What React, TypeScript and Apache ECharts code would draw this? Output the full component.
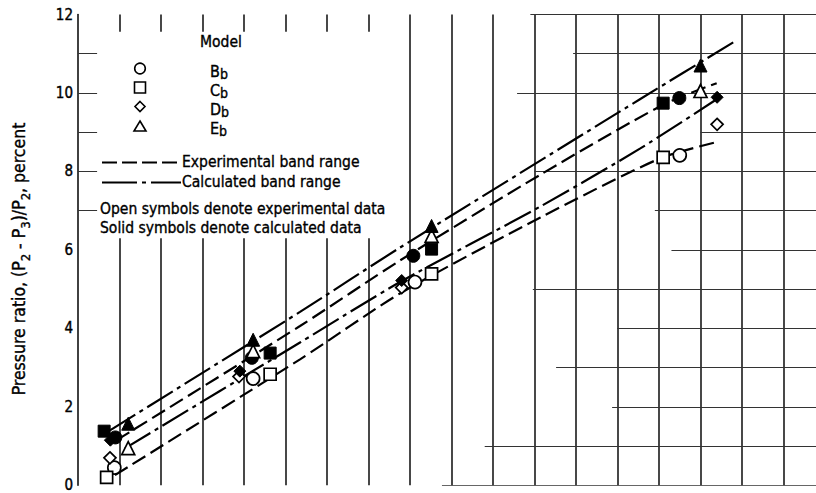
import React, { useEffect, useRef } from "react";
import * as echarts from "echarts";

const FONT = "'DejaVu Sans Condensed', 'Liberation Sans Narrow', sans-serif";
const X_MAX = 17.783;
const Y_TICKS_INTERVAL = 2;

// Model B (circle)
const bExperimental = [[0.875, 0.45], [4.22, 2.72], [8.12, 5.18], [14.5, 8.41]];
const bCalculated = [[0.9, 1.22], [4.19, 3.25], [8.08, 5.85], [14.49, 9.87]];
// Model C (square)
const cExperimental = [[0.69, 0.2], [4.63, 2.83], [8.52, 5.39], [14.1, 8.36]];
const cCalculated = [[0.63, 1.38], [4.63, 3.37], [8.52, 6.02], [14.1, 9.74]];
// Model D (diamond)
const dExperimental = [[0.77, 0.7], [3.88, 2.77], [7.8, 5.04], [15.4, 9.2]];
const dCalculated = [[0.78, 1.15], [3.9, 2.91], [7.8, 5.22], [15.4, 9.89]];
// Model E (triangle)
const eExperimental = [[1.21, 0.95], [4.22, 3.42], [8.52, 6.36], [15.0, 10.05]];
const eCalculated = [[1.21, 1.57], [4.22, 3.71], [8.52, 6.61], [15.0, 10.7]];

// Band ranges
const calcUpper = [[0.77, 1.4], [5.35, 4.42], [7.76, 6.06], [13.54, 9.84], [15.79, 11.29]];
const expUpper = [[0.93, 1.15], [5.35, 4.06], [7.76, 5.73], [11.13, 7.91], [14.1, 9.7], [15.39, 10.25]];
const calcLower = [[1.13, 0.94], [5.35, 3.64], [7.76, 5.18], [11.13, 7.1], [13.54, 8.58], [15.39, 9.84]];
const expLower = [[0.89, 0.26], [5.35, 3.21], [7.76, 4.89], [11.13, 6.82], [14.02, 8.33], [15.39, 8.75]];

// Graph-paper rulings (as printed / scanned)
const vLinesFull = [8, 9, 10, 11, 12, 13, 14, 15, 16, 17];
const vLinesBroken = [1, 2, 3, 4, 5, 6, 7];
const vBrokenSegments = [[0, 6.3], [11.56, 12]];
const hLineStarts = [
  [12, 10.9], [11, 11.93], [10, 10.58], [9, 15.0], [8, 11.0], [7, 13.9], [6, 14.3],
  [5, 10.96], [4, 12.99], [3, 11.52], [2, 12.87], [1, 9.8], [0, 8.77],
];
const leftTicks = [7, 8, 9, 10, 11];
const leftTickLength = 0.46;

export default function App() {
  const ref = useRef<HTMLDivElement>(null);
  useEffect(() => {
    if (!ref.current) return;
    const chart = echarts.init(ref.current, undefined, { renderer: "svg" });

    const vSegs: any[] = [];
    vLinesFull.forEach((x) => vSegs.push({ coords: [[x, 0], [x, 12]] }));
    vLinesBroken.forEach((x) =>
      vBrokenSegments.forEach(([a, b]) => vSegs.push({ coords: [[x, a], [x, b]] }))
    );
    const hSegs: any[] = [];
    hLineStarts.forEach(([y, x0]) => hSegs.push({ coords: [[x0, y], [X_MAX, y]] }));
    leftTicks.forEach((y) => hSegs.push({ coords: [[0, y], [leftTickLength, y]] }));

    const dashed = [15, 6];
    const dashDot = [30, 5, 4, 5];

    const bandLine = (name: string, data: number[][], type: number[]) => ({
      name,
      type: "line",
      data,
      showSymbol: false,
      smooth: 0.25,
      z: 3,
      lineStyle: { color: "#000", width: 2.2, type },
      silent: true,
    });

    const scatter = (name: string, data: number[][], symbol: string, size: number, open: boolean) => ({
      name,
      type: "scatter",
      data,
      symbol,
      symbolSize: size,
      z: 5,
      itemStyle: open
        ? { color: "#fff", borderColor: "#000", borderWidth: 1.7, opacity: 1 }
        : { color: "#000", borderColor: "#000", borderWidth: 1, opacity: 1 },
    });

    const ink = { fill: "#000", stroke: "#000", lineWidth: 0.35 };
    const textStyle = { fontFamily: FONT, fontSize: 15.5, ...ink };
    const modelRich = {
      m: { fontFamily: FONT, fontSize: 16, ...ink, lineHeight: 18, verticalAlign: "top" },
      s: { fontFamily: FONT, fontSize: 14, ...ink, lineHeight: 18, verticalAlign: "bottom", padding: [8, 0, 0, 0] },
    };

    const modelLabel = (letter: string, y: number) => ({
      type: "text",
      x: 210,
      y,
      style: { text: `{m|${letter}}{s|b}`, rich: modelRich, verticalAlign: "middle" },
    });

    chart.setOption({
      animation: false,
      grid: { left: 78, right: 0, top: 14.5, bottom: 2.5, containLabel: false },
      xAxis: {
        type: "value",
        min: 0,
        max: X_MAX,
        axisLine: { show: false },
        axisTick: { show: false },
        axisLabel: { show: false },
        splitLine: { show: false },
      },
      yAxis: {
        type: "value",
        min: 0,
        max: 12,
        interval: Y_TICKS_INTERVAL,
        axisLine: { show: true, lineStyle: { color: "#111", width: 1.6 } },
        axisTick: { show: false },
        splitLine: { show: false },
        axisLabel: {
          color: "#000", fontFamily: FONT, fontSize: 15, margin: 5,
          textBorderColor: "#000", textBorderWidth: 0.4,
        },
      },
      series: [
        { type: "lines", coordinateSystem: "cartesian2d", data: vSegs, silent: true, z: 1,
          lineStyle: { color: "#1a1a1a", width: 1.6, opacity: 1 } },
        { type: "lines", coordinateSystem: "cartesian2d", data: hSegs, silent: true, z: 1,
          lineStyle: { color: "#333", width: 1.1, opacity: 1 } },
        bandLine("Calculated upper", calcUpper, dashDot),
        bandLine("Experimental upper", expUpper, dashed),
        bandLine("Calculated lower", calcLower, dashDot),
        bandLine("Experimental lower", expLower, dashed),
        scatter("B experimental", bExperimental, "circle", 13, true),
        scatter("B calculated", bCalculated, "circle", 13, false),
        scatter("C experimental", cExperimental, "rect", 12, true),
        scatter("C calculated", cCalculated, "rect", 12, false),
        scatter("D experimental", dExperimental, "diamond", 12, true),
        scatter("D calculated", dCalculated, "diamond", 12, false),
        scatter("E experimental", eExperimental, "triangle", 13, true),
        scatter("E calculated", eCalculated, "triangle", 13, false),
      ],
      graphic: [
        {
          type: "text",
          x: 21,
          y: 259,
          rotation: Math.PI / 2,
          style: {
            text: "{n|Pressure ratio, (P}{s|2}{n| - P}{s|3}{n|)/P}{s|2}{n|, percent}",
            align: "center",
            verticalAlign: "middle",
            rich: {
              n: { fontFamily: FONT, fontSize: 17.5, ...ink, lineHeight: 22, verticalAlign: "top" },
              s: { fontFamily: FONT, fontSize: 13, ...ink, lineHeight: 22, verticalAlign: "bottom", padding: [9, 0, 0, 0] },
            },
          },
        },
        { type: "text", x: 200, y: 42, style: { ...textStyle, text: "Model", verticalAlign: "middle" } },
        { type: "circle", shape: { cx: 140, cy: 68.5, r: 5.3 }, style: { fill: "#fff", stroke: "#000", lineWidth: 1.6 } },
        { type: "rect", shape: { x: 134.5, y: 82, width: 11, height: 11 }, style: { fill: "#fff", stroke: "#000", lineWidth: 1.6 } },
        { type: "polygon", shape: { points: [[140, 101.5], [145, 106.5], [140, 111.5], [135, 106.5]] }, style: { fill: "#fff", stroke: "#000", lineWidth: 1.6 } },
        { type: "polygon", shape: { points: [[140, 121], [146, 131], [134, 131]] }, style: { fill: "#fff", stroke: "#000", lineWidth: 1.6 } },
        modelLabel("B", 72),
        modelLabel("C", 91),
        modelLabel("D", 110),
        modelLabel("E", 129),
        { type: "line", shape: { x1: 102, y1: 162.5, x2: 181, y2: 162.5 }, style: { stroke: "#000", lineWidth: 1.8, lineDash: [15, 5] } },
        { type: "text", x: 182, y: 162, style: { ...textStyle, text: "Experimental band range", verticalAlign: "middle" } },
        { type: "line", shape: { x1: 102, y1: 182.5, x2: 181, y2: 182.5 }, style: { stroke: "#000", lineWidth: 1.8, lineDash: [35, 5, 4, 5] } },
        { type: "text", x: 182, y: 182, style: { ...textStyle, text: "Calculated band range", verticalAlign: "middle" } },
        { type: "text", x: 100, y: 209, style: { ...textStyle, text: "Open symbols denote experimental data", verticalAlign: "middle" } },
        { type: "text", x: 100, y: 228, style: { ...textStyle, text: "Solid symbols denote calculated data", verticalAlign: "middle" } },
      ],
    });
    return () => chart.dispose();
  }, []);
  return (
    <div
      ref={ref}
      style={{ position: "absolute", left: 0, top: 0, width: 816, height: 493, background: "#fff" }}
    />
  );
}
